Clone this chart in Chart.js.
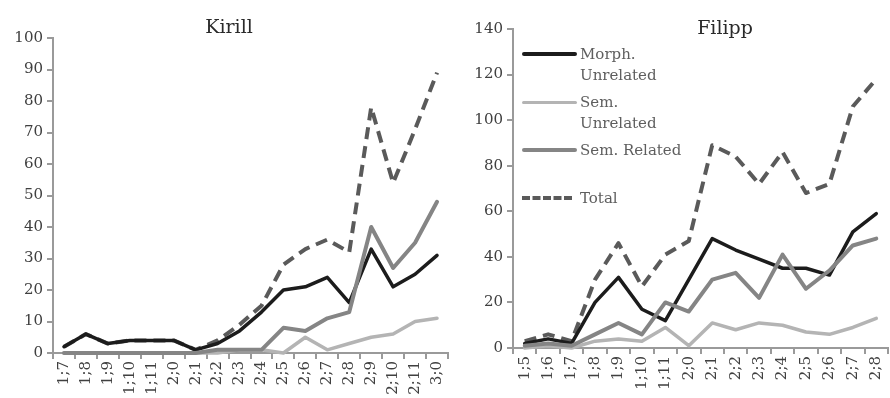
<!DOCTYPE html>
<html>
<head>
<meta charset="utf-8">
<script src="https://cdn.jsdelivr.net/npm/chart.js@4.4.1/dist/chart.umd.min.js"></script>
<style>
    body { margin: 0; background: #fff; }
    #wrap { position: relative; width: 890px; height: 398px; font-family: "DejaVu Serif", serif; }
    canvas { position: absolute; top: 0; }
    .title { position: absolute; font-size: 19px; color: #2a2a2a; transform: translate(-50%, -50%); white-space: nowrap; }
    #legend { position: absolute; left: 522px; top: 0; font-size: 15px; color: #5e5e5e; }
    .item { position: absolute; left: 0; white-space: nowrap; }
    .swatch { position: absolute; left: 0; width: 55px; }
    .txt { position: absolute; left: 58px; line-height: 21px; }
</style>
</head>
<body>
<div id="wrap">
    <canvas id="kirill" width="450" height="398" style="left:0"></canvas>
    <canvas id="filipp" width="440" height="398" style="left:450px"></canvas>
    <div class="title" style="left:229px; top:26px">Kirill</div>
    <div class="title" style="left:725px; top:27px">Filipp</div>
    <div id="legend"></div>
</div>
<script>
// Kirill
const kirillAges = ["1;7", "1;8", "1;9", "1;10", "1;11", "2;0", "2;1", "2;2", "2;3", "2;4", "2;5", "2;6", "2;7", "2;8", "2;9", "2;10", "2;11", "3;0"];
const kirillMorph = [2, 6, 3, 4, 4, 4, 1, 3, 7, 13, 20, 21, 24, 16, 33, 21, 25, 31];
const kirillSemUnrel = [0, 0, 0, 0, 0, 0, 0, 0, 1, 1, 0, 5, 1, 3, 5, 6, 10, 11];
const kirillSemRel = [0, 0, 0, 0, 0, 0, 0, 1, 1, 1, 8, 7, 11, 13, 40, 27, 35, 48];
const kirillTotal = [2, 6, 3, 4, 4, 4, 1, 4, 9, 15, 28, 33, 36, 32, 78, 54, 71, 89];

// Filipp
const filippAges = ["1;5", "1;6", "1;7", "1;8", "1;9", "1;10", "1;11", "2;0", "2;1", "2;2", "2;3", "2;4", "2;5", "2;6", "2;7", "2;8"];
const filippMorph = [2, 4, 2, 20, 31, 17, 12, 30, 48, 43, 39, 35, 35, 32, 51, 59];
const filippSemUnrel = [0, 1, 0, 3, 4, 3, 9, 1, 11, 8, 11, 10, 7, 6, 9, 13];
const filippSemRel = [1, 2, 1, 6, 11, 6, 20, 16, 30, 33, 22, 41, 26, 34, 45, 48];
const filippTotal = [3, 6, 3, 30, 46, 27, 41, 47, 89, 84, 72, 86, 68, 72, 106, 118];

const seriesNames = ["Morph. Unrelated", "Sem. Unrelated", "Sem. Related", "Total"];
const seriesColors = ["#1c1c1c", "#b4b4b4", "#858585", "#5a5a5a"];

const axisColor = "#9a9a9a";
const tickFont = { family: "DejaVu Serif", size: 15 };
const tickColor = "#404040";

function makeDatasets(morph, semUnrel, semRel, total) {
    const base = { fill: false, pointRadius: 0, tension: 0, clip: false, borderCapStyle: "round", borderJoinStyle: "round" };
    return [
        { ...base, label: seriesNames[0], data: morph, borderColor: seriesColors[0], borderWidth: 3.5, order: 2 },
        { ...base, label: seriesNames[1], data: semUnrel, borderColor: seriesColors[1], borderWidth: 3.5, order: 1 },
        { ...base, label: seriesNames[2], data: semRel, borderColor: seriesColors[2], borderWidth: 4, order: 0 },
        { ...base, label: seriesNames[3], data: total, borderColor: seriesColors[3], borderWidth: 4, borderDash: [12, 7], borderCapStyle: "butt", order: 3 }
    ];
}

function makeChart(id, labels, datasets, yMax, yStep, yWidth, xHeight, padTop) {
    return new Chart(document.getElementById(id), {
        type: "line",
        data: { labels: labels, datasets: datasets },
        options: {
            responsive: false,
            animation: false,
            layout: { padding: { top: padTop, right: 2, left: 0, bottom: 0 } },
            plugins: { legend: { display: false }, tooltip: { enabled: false } },
            scales: {
                x: {
                    offset: true,
                    grid: { display: true, offset: true, drawOnChartArea: false, drawTicks: true, tickLength: 6, color: axisColor, lineWidth: 2 },
                    border: { display: true, color: axisColor, width: 2 },
                    ticks: { color: tickColor, font: tickFont, minRotation: 90, maxRotation: 90, autoSkip: false, padding: 2 },
                    afterFit: (scale) => {
                        scale.height = xHeight;
                        scale.paddingLeft = 0;
                        scale.paddingRight = 0;
                    }
                },
                y: {
                    min: 0,
                    max: yMax,
                    grid: { display: true, drawOnChartArea: false, drawTicks: true, tickLength: 6, color: axisColor, lineWidth: 2 },
                    border: { display: true, color: axisColor, width: 2 },
                    ticks: { stepSize: yStep, color: tickColor, font: tickFont, padding: 4 },
                    afterFit: (scale) => { scale.width = yWidth; }
                }
            }
        }
    });
}

makeChart("kirill", kirillAges, makeDatasets(kirillMorph, kirillSemUnrel, kirillSemRel, kirillTotal), 100, 10, 53, 45, 38);
makeChart("filipp", filippAges, makeDatasets(filippMorph, filippSemUnrel, filippSemRel, filippTotal), 140, 20, 63, 50, 29);

// legend inside the Filipp panel
const legendRows = [
    { name: "Morph.<br>Unrelated", y: 54 },
    { name: "Sem.<br>Unrelated", y: 102 },
    { name: "Sem. Related", y: 150 },
    { name: "Total", y: 198 }
];
const legend = document.getElementById("legend");
legendRows.forEach((row, i) => {
    const item = document.createElement("div");
    item.className = "item";
    item.style.top = row.y + "px";
    const sw = document.createElement("div");
    sw.className = "swatch";
    const w = i === 1 ? 3 : 4;
    sw.style.top = (-w / 2) + "px";
    if (i === 3) {
        sw.style.borderTop = w + "px dashed " + seriesColors[i];
        sw.style.width = "50px";
    } else {
        sw.style.height = w + "px";
        sw.style.background = seriesColors[i];
        sw.style.borderRadius = "2px";
    }
    const txt = document.createElement("div");
    txt.className = "txt";
    txt.style.top = "-10px";
    txt.innerHTML = row.name;
    item.appendChild(sw);
    item.appendChild(txt);
    legend.appendChild(item);
});
</script>
</body>
</html>
